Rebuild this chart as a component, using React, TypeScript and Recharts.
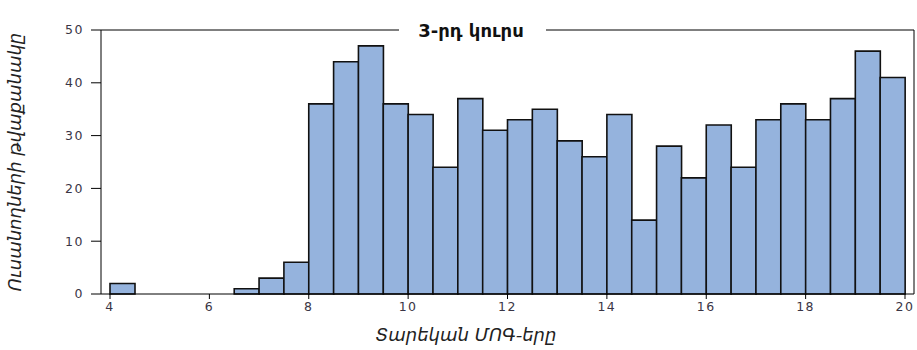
import { BarChart, Bar, XAxis, YAxis, ReferenceLine, Label } from "recharts";

// histogram bins (width 0.5) of annual GPA, 3rd year
const binStarts = [
  4, 4.5, 5, 5.5, 6, 6.5, 7, 7.5, 8, 8.5, 9, 9.5, 10, 10.5, 11, 11.5,
  12, 12.5, 13, 13.5, 14, 14.5, 15, 15.5, 16, 16.5, 17, 17.5, 18, 18.5, 19, 19.5,
];
const counts = [
  2, 0, 0, 0, 0, 1, 3, 6, 36, 44, 47, 36, 34, 24, 37, 31,
  33, 35, 29, 26, 34, 14, 28, 22, 32, 24, 33, 36, 33, 37, 46, 41,
];
const xTicks = [4, 6, 8, 10, 12, 14, 16, 18, 20];
const yTicks = [0, 10, 20, 30, 40, 50];

const title = "3-րդ կուրս";
const xTitle = "Տարեկան ՄՈԳ-երը";
const yTitle = "Ուսանողների թվաքանակը";

const data = binStarts.map((b, i) => ({ bin: String(b), start: b, count: counts[i] }));

const ARM = "'DejaVu Sans', sans-serif";
const tickStyle = {
  fontFamily: "'DejaVu Sans', sans-serif",
  fontSize: 12.5,
  letterSpacing: 1.5,
  fill: "#3a3545",
};

export default function App() {
  return (
    <div style={{ position: "absolute", left: 0, top: 0, width: 917, height: 350, background: "#fff" }}>
      <BarChart
        width={917}
        height={350}
        data={data}
        margin={{ top: 30, right: 2, bottom: 26, left: 0 }}
        barCategoryGap={0}
        barGap={0}
      >
        <XAxis dataKey="bin" hide height={0} padding={{ left: 9, right: 9 }} />
        <XAxis
          xAxisId="num"
          dataKey="start"
          type="number"
          domain={[4, 20]}
          allowDataOverflow
          ticks={xTicks}
          padding={{ left: 9, right: 9 }}
          tickSize={5}
          tickMargin={3}
          axisLine={{ stroke: "#000" }}
          tickLine={{ stroke: "#000" }}
          tick={tickStyle}
          height={30}
        >
          <Label
            content={() => (
              <text x={466} y={341} textAnchor="middle" fontFamily={ARM} fontStyle="italic" fontSize={18} fill="#222">
                {xTitle}
              </text>
            )}
          />
        </XAxis>
        <YAxis
          domain={[0, 50]}
          ticks={yTicks}
          width={101}
          tickSize={10}
          tickMargin={7}
          axisLine={{ stroke: "#000" }}
          tickLine={{ stroke: "#000" }}
          tick={tickStyle}
        >
          <Label
            content={() => (
              <text
                x={21}
                y={162}
                transform="rotate(-90 21 162)"
                textAnchor="middle"
                fontFamily={ARM}
                fontStyle="italic"
                fontSize={18}
                fill="#222"
              >
                {yTitle}
              </text>
            )}
          />
        </YAxis>
        <YAxis
          yAxisId="right"
          orientation="right"
          domain={[0, 50]}
          allowDataOverflow
          width={1}
          tick={false}
          tickLine={false}
          axisLine={{ stroke: "#000" }}
        />
        <ReferenceLine y={50} stroke="#000" ifOverflow="visible">
          <Label
            content={() => (
              <g>
                <rect x={399} y={18} width={147} height={24} fill="#fff" />
                <text x={471} y={37} textAnchor="middle" fontFamily={ARM} fontWeight="bold" fontSize={18} fill="#111">
                  {title}
                </text>
              </g>
            )}
          />
        </ReferenceLine>
        <Bar
          dataKey="count"
          fill="#95b3dd"
          stroke="#111"
          strokeWidth={1.6}
          isAnimationActive={false}
        />
      </BarChart>
    </div>
  );
}
